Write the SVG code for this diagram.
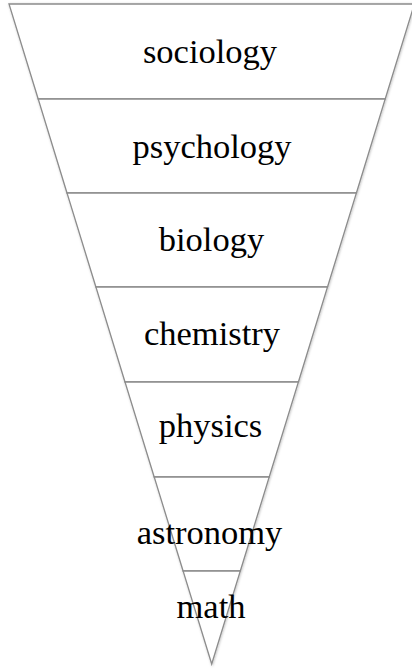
<svg xmlns="http://www.w3.org/2000/svg" width="412" height="669" viewBox="0 0 412 669">
<style>
.band{fill:#ffffff;stroke:#8c8c8c;stroke-width:1.3;stroke-linejoin:miter}
.lbl{font-family:"Liberation Serif","Times New Roman",serif;font-size:34.5px;fill:#000000;text-anchor:middle}
</style>
<defs>
<filter id="sh" x="-10%" y="-10%" width="120%" height="120%">
<feDropShadow dx="0.6" dy="0.6" stdDeviation="0.8" flood-color="#000000" flood-opacity="0.25"/>
</filter>
</defs>
<rect width="412" height="669" fill="#ffffff"/>
<g id="shapes" filter="url(#sh)">
<g id="node-sociology"><polygon class="band" points="9,4 414.4,4 385.2,99 38.2,99"/></g>
<g id="node-psychology"><polygon class="band" points="38.2,99 385.2,99 356.4,193 67,193"/></g>
<g id="node-biology"><polygon class="band" points="67,193 356.4,193 327.5,287 95.9,287"/></g>
<g id="node-chemistry"><polygon class="band" points="95.9,287 327.5,287 298.4,382 125,382"/></g>
<g id="node-physics"><polygon class="band" points="125,382 298.4,382 269.2,477 154.2,477"/></g>
<g id="node-astronomy"><polygon class="band" points="154.2,477 269.2,477 240.3,571 183.1,571"/></g>
<g id="node-math"><polygon class="band" points="183.1,571 240.3,571 211.7,664"/></g>
</g>
<g id="labels">
<text class="lbl" x="210" y="63">sociology</text>
<text class="lbl" x="212" y="158">psychology</text>
<text class="lbl" x="211.5" y="251">biology</text>
<text class="lbl" x="212" y="345">chemistry</text>
<text class="lbl" x="210.5" y="437">physics</text>
<text class="lbl" x="209.5" y="544">astronomy</text>
<text class="lbl" x="211" y="618">math</text>
</g>
<g id="connectors"/>
</svg>
